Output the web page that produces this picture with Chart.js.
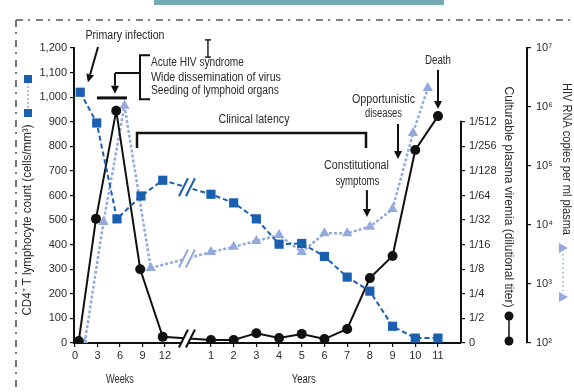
<!DOCTYPE html>
<html><head><meta charset="utf-8">
<script src="https://cdn.jsdelivr.net/npm/chart.js@4/dist/chart.umd.min.js"></script>
<style>html,body{margin:0;padding:0;background:#fff;}canvas{display:block;}</style>
</head><body>
<canvas id="c" width="574" height="392"></canvas>
<script>
// ---------- tick labels / categories ----------
const weekTicks = [0, 3, 6, 9, 12];
const yearTicks = [1, 2, 3, 4, 5, 6, 7, 8, 9, 10, 11];
const viremiaTickLabels = ['0','1/2','1/4','1/8','1/16','1/32','1/64','1/128','1/256','1/512'];
const rnaTicks = [1e2, 1e3, 1e4, 1e5, 1e6, 1e7];
const rnaTickLabels = ['10\u00B2','10\u00B3','10\u2074','10\u2075','10\u2076','10\u2077'];

// ---------- series values ----------
// CD4+ T lymphocyte count (cells/mm3)
const cd4Weeks = [0.7, 2.9, 5.6, 8.8, 11.7];
const cd4WeekValues = [1020, 895, 505, 598, 662];
const cd4Years = [1, 2, 3, 4, 5, 6, 7, 8, 9, 10, 11];
const cd4YearValues = [605, 570, 505, 402, 405, 352, 268, 211, 68, 20, 20];

// Culturable plasma viremia, in titer steps (0 = 0, 1 = 1/2 ... 9 = 1/512)
const virWeeks = [0.5, 2.8, 5.5, 8.7, 11.7];
const virWeekValues = [0.08, 5.05, 9.45, 3.0, 0.25];
const virYears = [1, 2, 3, 4, 5, 6, 7, 8, 9, 10, 11];
const virYearValues = [0.12, 0.12, 0.4, 0.2, 0.37, 0.16, 0.57, 2.64, 3.54, 7.85, 9.23];

// HIV RNA copies per ml plasma
const rnaWeeks = [1.3, 3.8, 6.6, 10.1];
const rnaWeekValues = [100, 11200, 1050000, 1860];
const rnaYears = [1, 2, 3, 4, 5, 6, 7, 8, 9, 9.9, 10.55];
const rnaYearValues = [3470, 4270, 5370, 6760, 3470, 7240, 7240, 9330, 18600, 363000, 2090000];

// ---------- broken x axis: weeks segment, then years segment ----------
const YEAR0 = 18.13;      // axis position of year 1 (in week units)
const YEAR_STEP = 3.027;  // axis units per year
const BREAK_AT = 14.93;   // axis position of the "//" break
const wk = w => w;
const yr = y => YEAR0 + (y - 1) * YEAR_STEP;
function pts(wx, wv, yx, yv) {
  return wx.map((x, i) => ({x: wk(x), y: wv[i]})).concat(yx.map((x, i) => ({x: yr(x), y: yv[i]})));
}
const xTickPos = weekTicks.map(wk).concat(yearTicks.map(yr));
const xTickLab = weekTicks.map(String).concat(yearTicks.map(String));

const BLUE = '#1b5fb1', LIGHT = '#94a9de', BLACK = '#111', TXT = '#2b2b2b';
const FONT = "'Liberation Sans', Arial, sans-serif";

function txt(ctx, s, x, y, o) {
  o = o || {};
  ctx.save();
  ctx.font = (o.bold ? 'bold ' : '') + (o.size || 12) + 'px ' + FONT;
  ctx.fillStyle = o.color || TXT;
  ctx.textBaseline = 'middle';
  ctx.textAlign = o.align || 'center';
  const mw = ctx.measureText(s).width;
  const sx = o.width ? o.width / mw : 1;
  ctx.translate(x, y);
  if (o.rot) ctx.rotate(o.rot);
  ctx.scale(sx, 1);
  ctx.fillText(s, 0, 0);
  ctx.restore();
}
function line(ctx, x1, y1, x2, y2, w, c) {
  ctx.save(); ctx.strokeStyle = c || BLACK; ctx.lineWidth = w || 1.5;
  ctx.beginPath(); ctx.moveTo(x1, y1); ctx.lineTo(x2, y2); ctx.stroke(); ctx.restore();
}
function arrow(ctx, x1, y1, x2, y2, w) {
  const a = Math.atan2(y2 - y1, x2 - x1), L = 8, H = 4;
  const bx = x2 - L * Math.cos(a), by = y2 - L * Math.sin(a);
  line(ctx, x1, y1, bx, by, w || 2);
  ctx.save(); ctx.fillStyle = BLACK; ctx.beginPath();
  ctx.moveTo(x2, y2);
  ctx.lineTo(bx + H * Math.sin(a), by - H * Math.cos(a));
  ctx.lineTo(bx - H * Math.sin(a), by + H * Math.cos(a));
  ctx.closePath(); ctx.fill(); ctx.restore();
}

const decor = {
  id: 'decor',
  afterDraw(chart) {
    const ctx = chart.ctx, xs = chart.scales.x, ys = chart.scales.y, y2 = chart.scales.y2;
    const X = u => xs.getPixelForValue(u), Y = c => ys.getPixelForValue(c);
    const ca = chart.chartArea;

    // top band + dash-dot frame
    ctx.save(); ctx.fillStyle = '#73aab5'; ctx.fillRect(154, 0, 290, 5); ctx.restore();
    ctx.save(); ctx.strokeStyle = '#555'; ctx.lineWidth = 1.6; ctx.setLineDash([7, 5, 2, 6]);
    ctx.beginPath(); ctx.moveTo(16, 20); ctx.lineTo(574, 20); ctx.stroke();
    ctx.beginPath(); ctx.moveTo(16, 20); ctx.lineTo(16, 392); ctx.stroke(); ctx.restore();

    // viremia axis line (0 .. 1/512)
    line(ctx, ca.right, y2.getPixelForValue(9) - 1, ca.right, y2.getPixelForValue(0), 2);

    // break marks
    chart.data.datasets.forEach((ds, di) => {
      const d = ds.data; let k = d.findIndex(p => p.x > BREAK_AT);
      if (k < 1) return;
      const meta = chart.getDatasetMeta(di);
      const p0 = meta.data[k - 1], p1 = meta.data[k];
      const bx = X(BREAK_AT);
      const by = p0.y + (p1.y - p0.y) * (bx - p0.x) / (p1.x - p0.x);
      ctx.save(); ctx.fillStyle = '#fff'; ctx.beginPath();
      ctx.moveTo(bx - 7, by + 8); ctx.lineTo(bx + 1, by - 8); ctx.lineTo(bx + 7, by - 8); ctx.lineTo(bx - 1, by + 8);
      ctx.closePath(); ctx.fill(); ctx.restore();
      line(ctx, bx - 8, by + 9, bx + 1, by - 9, 2, ds.borderColor);
      line(ctx, bx - 1, by + 9, bx + 8, by - 9, 2, ds.borderColor);
    });

    // axis titles
    txt(ctx, 'CD4\u207A T lymphocyte count (cells/mm\u00B3)', 28, 220, {rot: -Math.PI / 2, width: 191});
    txt(ctx, 'Culturable plasma viremia (dilutional titer)', 508, 197, {rot: Math.PI / 2, width: 221});
    txt(ctx, 'HIV RNA copies per ml plasma', 566, 159, {rot: Math.PI / 2, width: 152});
    txt(ctx, 'Weeks', X(wk(6)), ca.bottom + 37, {width: 28});
    txt(ctx, 'Years', X(yr(5)) + 2, ca.bottom + 37, {width: 24});

    // legend keys
    ctx.save(); ctx.strokeStyle = LIGHT; ctx.lineWidth = 1.5; ctx.setLineDash([2, 2]);
    ctx.beginPath(); ctx.moveTo(28, 82); ctx.lineTo(28, 110); ctx.stroke(); ctx.restore();
    ctx.save(); ctx.fillStyle = BLUE; ctx.fillRect(24, 75, 8, 8); ctx.fillRect(24, 109, 8, 8); ctx.restore();
    line(ctx, 509, 316, 509, 341, 1.5);
    ctx.save(); ctx.fillStyle = BLACK;
    [316, 341].forEach(y => { ctx.beginPath(); ctx.arc(509, y, 4.5, 0, Math.PI * 2); ctx.fill(); }); ctx.restore();
    ctx.save(); ctx.strokeStyle = LIGHT; ctx.lineWidth = 1.5; ctx.setLineDash([1.5, 3]);
    ctx.beginPath(); ctx.moveTo(563, 254); ctx.lineTo(563, 291); ctx.stroke(); ctx.restore();
    ctx.save(); ctx.fillStyle = LIGHT;
    [248, 297].forEach(y => { ctx.beginPath(); ctx.moveTo(559, y - 5); ctx.lineTo(568, y); ctx.lineTo(559, y + 5); ctx.closePath(); ctx.fill(); }); ctx.restore();

    // annotations
    txt(ctx, 'Primary infection', X(6.67), Y(1249), {width: 79});
    arrow(ctx, X(3.07), Y(1204), X(1.73), Y(1061), 2);

    line(ctx, X(17.73), Y(1233), X(17.73), Y(1163), 1.4);
    line(ctx, X(17.73) - 3, Y(1233), X(17.73) + 3, Y(1233), 1.4);
    line(ctx, X(17.73) - 3, Y(1163), X(17.73) + 3, Y(1163), 1.4);

    ctx.save(); ctx.strokeStyle = BLACK; ctx.lineWidth = 2; ctx.beginPath();
    ctx.moveTo(X(10.0), Y(1171)); ctx.lineTo(X(8.67), Y(1171)); ctx.lineTo(X(8.67), Y(992)); ctx.lineTo(X(10.0), Y(992));
    ctx.moveTo(X(8.67), Y(1098)); ctx.lineTo(X(5.33), Y(1098));
    ctx.stroke(); ctx.restore();
    arrow(ctx, X(5.33), Y(1098), X(5.33), Y(1014), 2);
    line(ctx, X(2.93), Y(997), X(6.93), Y(997), 3);
    txt(ctx, 'Acute HIV syndrome', X(10.13), Y(1139), {align: 'left', width: 93});
    txt(ctx, 'Wide dissemination of virus', X(10.13), Y(1078), {align: 'left', width: 130});
    txt(ctx, 'Seeding of lymphoid organs', X(10.13), Y(1025), {align: 'left', width: 128});

    txt(ctx, 'Clinical latency', X(23.87), Y(907), {width: 71});
    ctx.save(); ctx.strokeStyle = BLACK; ctx.lineWidth = 2.5; ctx.beginPath();
    ctx.moveTo(X(8.27), Y(793)); ctx.lineTo(X(8.27), Y(854)); ctx.lineTo(X(yr(7.83)), Y(854)); ctx.lineTo(X(yr(7.83)), Y(793));
    ctx.stroke(); ctx.restore();

    txt(ctx, 'Death', X(yr(11)), Y(1147), {width: 26});
    arrow(ctx, X(yr(11)), Y(1111), X(yr(11)), Y(952), 2);
    txt(ctx, 'Opportunistic', X(yr(8.6)), Y(988), {width: 63});
    txt(ctx, 'diseases', X(yr(8.6)), Y(932), {width: 37});
    arrow(ctx, X(yr(9.24)), Y(891), X(yr(9.24)), Y(748), 2);
    txt(ctx, 'Constitutional', X(yr(7.41)), Y(720), {width: 65});
    txt(ctx, 'symptoms', X(yr(7.45)), Y(655), {width: 44});
    arrow(ctx, X(yr(7.87)), Y(622), X(yr(7.87)), Y(513), 2);
  }
};

const tickFont = {family: FONT, size: 11};
new Chart(document.getElementById('c'), {
  type: 'line',
  data: {
    datasets: [
      {label: 'CD4', data: pts(cd4Weeks, cd4WeekValues, cd4Years, cd4YearValues), yAxisID: 'y',
       borderColor: BLUE, backgroundColor: BLUE, borderWidth: 2, borderDash: [5, 3],
       pointStyle: 'rect', pointRadius: 6.5, pointBorderWidth: 0, pointBackgroundColor: BLUE},
      {label: 'Viremia', data: pts(virWeeks, virWeekValues, virYears, virYearValues), yAxisID: 'y2',
       borderColor: BLACK, backgroundColor: BLACK, borderWidth: 2,
       pointStyle: 'circle', pointRadius: 5, pointBorderWidth: 0, pointBackgroundColor: BLACK},
      {label: 'RNA', data: pts(rnaWeeks, rnaWeekValues, rnaYears, rnaYearValues), yAxisID: 'y3',
       borderColor: LIGHT, backgroundColor: LIGHT, borderWidth: 2.5, borderDash: [3, 2],
       pointStyle: 'triangle', pointRadius: 6, pointBorderWidth: 0, pointBackgroundColor: LIGHT}
    ]
  },
  options: {
    responsive: false, animation: false, devicePixelRatio: 1,
    layout: {padding: {top: 48, left: 0, right: 0, bottom: 0}},
    plugins: {legend: {display: false}, tooltip: {enabled: false}},
    elements: {line: {tension: 0}},
    scales: {
      x: {type: 'linear', min: -0.13, max: 51.47,
          afterBuildTicks: s => { s.ticks = xTickPos.map(v => ({value: v})); },
          afterFit: s => { s.height = 49; },
          ticks: {autoSkip: false, maxRotation: 0, font: tickFont, color: TXT, padding: 2,
                  callback: (v, i) => xTickLab[i]},
          grid: {drawOnChartArea: false, drawTicks: true, tickLength: 4, color: BLACK, lineWidth: 1.2},
          border: {display: true, color: BLACK, width: 2}},
      y: {position: 'left', min: 0, max: 1200,
          afterBuildTicks: s => { const t = []; for (let v = 0; v <= 1200; v += 100) t.push({value: v}); s.ticks = t; },
          afterFit: s => { s.width = 74; },
          ticks: {autoSkip: false, font: tickFont, color: TXT, padding: 3,
                  callback: v => v.toLocaleString('en-US')},
          grid: {drawOnChartArea: false, drawTicks: true, tickLength: 4, color: BLACK, lineWidth: 1.2},
          border: {display: true, color: BLACK, width: 2}},
      y2: {position: 'right', min: 0, max: 12,
          afterBuildTicks: s => { s.ticks = viremiaTickLabels.map((l, i) => ({value: i})); },
          afterFit: s => { s.width = 66; },
          ticks: {autoSkip: false, font: tickFont, color: TXT, padding: 4,
                  callback: (v, i) => viremiaTickLabels[i]},
          grid: {drawOnChartArea: false, drawTicks: true, tickLength: 4, color: BLACK, lineWidth: 1.2},
          border: {display: false}},
      y3: {type: 'logarithmic', position: 'right', min: 100, max: 1e7,
          afterBuildTicks: s => { s.ticks = rnaTicks.map(v => ({value: v})); },
          afterFit: s => { s.width = 47; },
          ticks: {autoSkip: false, font: tickFont, color: TXT, padding: 5,
                  callback: (v, i) => rnaTickLabels[i]},
          grid: {drawOnChartArea: false, drawTicks: true, tickLength: 4, color: BLACK, lineWidth: 1.2},
          border: {display: true, color: BLACK, width: 2}}
    }
  },
  plugins: [decor]
});
</script>
</body></html>
